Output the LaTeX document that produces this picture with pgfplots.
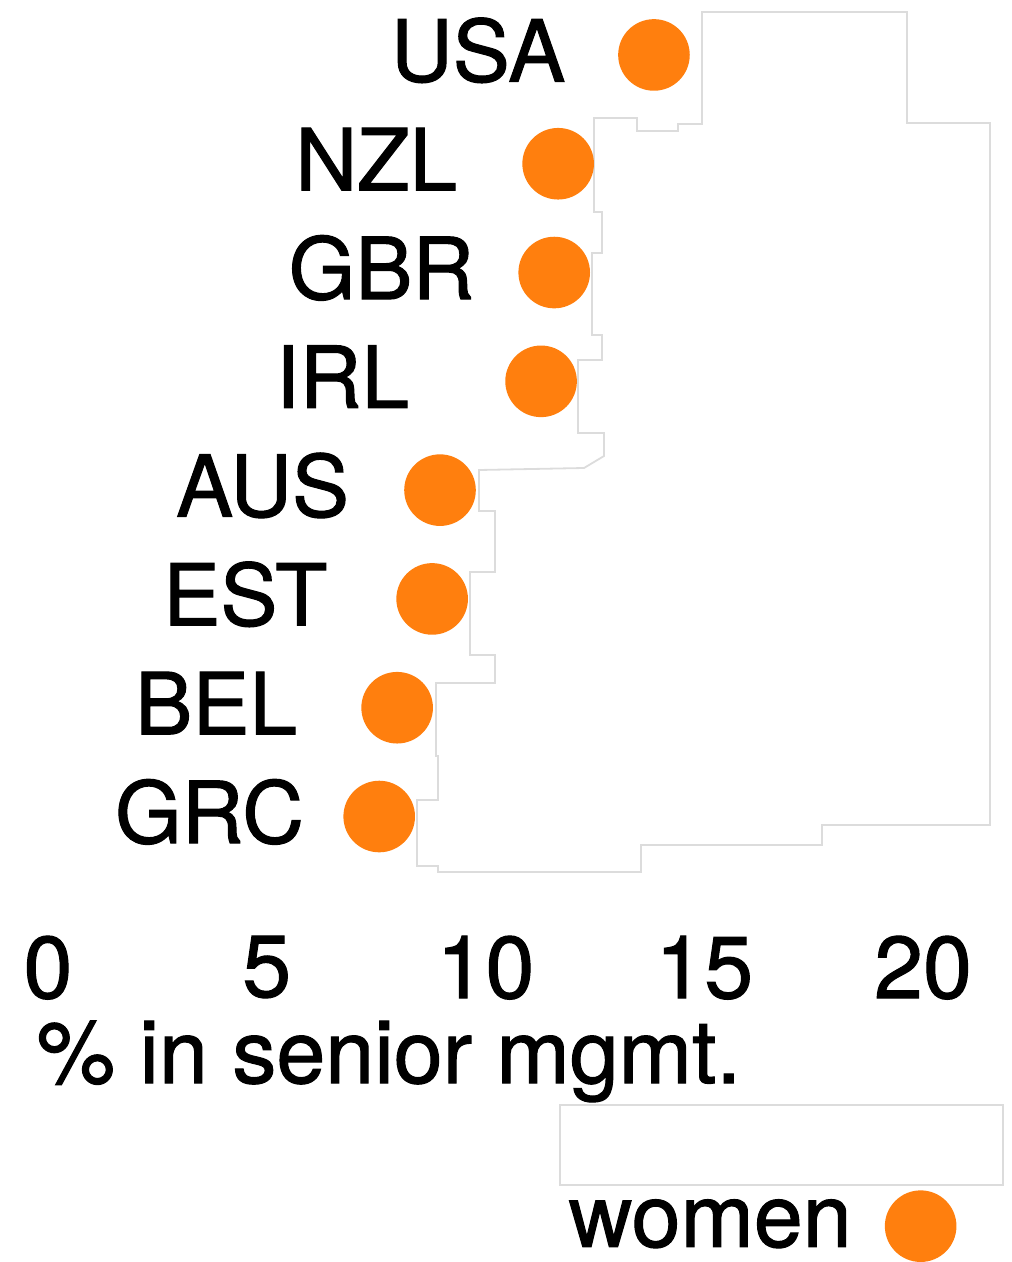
\documentclass[border=0pt]{standalone}
\usepackage{pgfplots}
\pgfplotsset{compat=1.18}
\usepackage{fontspec}
\setmainfont{TeX Gyre Heros}[FakeBold=1.2]
\definecolor{dotorange}{HTML}{FF7F0E}
\definecolor{faint}{HTML}{DCDCDC}
\newcommand{\lab}{\fontsize{22}{26}\selectfont}
\newcommand{\clab}{\fontsize{21.4}{26}\selectfont}
\begin{document}
\begin{tikzpicture}
\useasboundingbox (0,0) rectangle (252.75pt,-315.5pt);
\begin{scope}[x=0.25pt,y=-0.25pt]
\draw[faint, line width=0.45pt] (702,12) -- (907,12) -- (907,123) -- (990,123) -- (990,825) -- (822,825) -- (822,845) -- (641,845) -- (641,872) -- (438,872) -- (438,866) -- (417,866) -- (417,800) -- (438,800) -- (438,756) -- (436,756) -- (436,683) -- (495,683) -- (495,655) -- (470,655) -- (470,572) -- (495,572) -- (495,511) -- (479,511) -- (479,470) -- (584,468) -- (604,456) -- (604,433) -- (578,433) -- (578,360) -- (602,360) -- (602,335) -- (592,335) -- (592,253) -- (602,253) -- (602,212) -- (594,212) -- (594,118) -- (637,118) -- (637,131) -- (678,131) -- (678,124) -- (702,124) -- cycle;
\draw[faint, line width=0.45pt] (560,1105) rectangle (1003,1185);
\node[anchor=base west, inner sep=0pt, font=\lab] at (36,1083) {\% in senior mgmt.};
\end{scope}
\begin{axis}[
  at={(0pt,0pt)}, anchor=north west,
  scale only axis, width=252.75pt, height=233.75pt,
  xmin=-1.097, xmax=22.011, ymin=-1.089, ymax=7.505,
  hide y axis,
  axis x line*=bottom,
  x axis line style={draw=none},
  xtick={0,5,10,15,20},
  major tick length=0pt,
  /pgf/number format/assume math mode=true,
  xticklabel style={font=\lab, inner sep=0pt, anchor=north},
  clip=false,
  legend plot pos=right,
  legend style={draw=none, fill=none, at={(0.554,-0.3497)}, anchor=south west, font=\lab, inner sep=0pt, /tikz/column sep=6.5pt},
]
\addplot[only marks, color=dotorange, mark=*, mark size=8.75pt, mark options={draw=dotorange, fill=dotorange}] coordinates {
(13.85,7) (11.66,6) (11.57,5) (11.27,4) (8.96,3) (8.78,2) (7.98,1) (7.57,0)
};
\addlegendentry{women}
\node[anchor=base east, inner sep=0pt, font=\clab] at (axis cs:11.84,6.756) {USA};
\node[anchor=base east, inner sep=0pt, font=\clab] at (axis cs:9.37,5.756) {NZL};
\node[anchor=base east, inner sep=0pt, font=\clab] at (axis cs:9.76,4.756) {GBR};
\node[anchor=base east, inner sep=0pt, font=\clab] at (axis cs:8.27,3.756) {IRL};
\node[anchor=base east, inner sep=0pt, font=\clab] at (axis cs:6.90,2.756) {AUS};
\node[anchor=base east, inner sep=0pt, font=\clab] at (axis cs:6.40,1.756) {EST};
\node[anchor=base east, inner sep=0pt, font=\clab] at (axis cs:5.71,0.756) {BEL};
\node[anchor=base east, inner sep=0pt, font=\clab] at (axis cs:5.87,-0.244) {GRC};
\end{axis}
\end{tikzpicture}
\end{document}
